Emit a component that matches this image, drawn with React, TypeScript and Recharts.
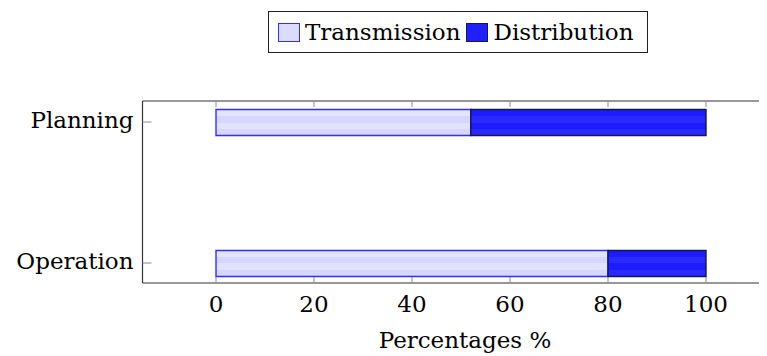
import {
  BarChart,
  Bar,
  XAxis,
  YAxis,
  Legend,
} from 'recharts';

// Share of work per task, in percent
const categories = ['Planning', 'Operation'];
const transmission = [52, 80];
const distribution = [48, 20];
const xTicks = [0, 20, 40, 60, 80, 100];

const seriesNames = { transmission: 'Transmission', distribution: 'Distribution' };

const FONT = '"DejaVu Serif", "Liberation Serif", serif';
const FONT_SIZE = 23;

const PLOT_TOP = 93;
const PLOT_BOTTOM = 275;
const PLOT_LEFT = 134.5;
const CHART_W = 800;
const CHART_H = 348;
const X_AXIS_H = 30;
// the frame runs on past the right edge of the page
const X_DOMAIN = [-15, 115];

const FRAME = '#333';
const LIGHT_STROKE = '#2f2fff';
const DARK_STROKE = '#161650';

const data = categories.map((name, i) => ({
  name,
  transmission: transmission[i],
  distribution: distribution[i],
}));

function XTick({ x, index, payload }: any) {
  return (
    <g>
      {index === 0 && (
        <line x1={PLOT_LEFT} x2={CHART_W} y1={PLOT_TOP} y2={PLOT_TOP} stroke={FRAME} strokeWidth={1.2} />
      )}
      <line x1={x} x2={x} y1={PLOT_BOTTOM} y2={PLOT_BOTTOM - 6} stroke="#8a8a8a" />
      <line x1={x} x2={x} y1={PLOT_TOP} y2={PLOT_TOP + 6} stroke="#8a8a8a" />
      <text x={x} y={PLOT_BOTTOM + 29} textAnchor="middle" fontFamily={FONT} fontSize={FONT_SIZE} fill="#000">
        {payload.value}
      </text>
    </g>
  );
}

function YTick({ y, payload }: any) {
  return (
    <g>
      <line x1={PLOT_LEFT} x2={PLOT_LEFT + 9} y1={y} y2={y} stroke="#8a8a8a" />
      <text x={PLOT_LEFT - 9} y={y + 6} textAnchor="end" fontFamily={FONT} fontSize={FONT_SIZE} fill="#000">
        {payload.value}
      </text>
    </g>
  );
}

function XLabel({ viewBox }: any) {
  const cx = viewBox.x + viewBox.width / 2 + 4;
  return (
    <text x={cx} y={340} textAnchor="middle" fontFamily={FONT} fontSize={FONT_SIZE} fill="#000">
      Percentages %
    </text>
  );
}

function LegendBox() {
  const swatch = (fill: string, stroke: string) => (
    <span
      style={{
        display: 'inline-block',
        width: 20,
        height: 17,
        background: fill,
        border: `1px solid ${stroke}`,
        marginRight: 5,
        verticalAlign: '-2px',
      }}
    />
  );
  return (
    <div
      style={{
        border: '1px solid #222',
        padding: '4px 14px 4px 9px',
        fontFamily: FONT,
        fontSize: FONT_SIZE,
        lineHeight: '32px',
        whiteSpace: 'nowrap',
        background: '#fff',
      }}
    >
      {swatch('#dcdcff', LIGHT_STROKE)}
      <span style={{ marginRight: 6 }}>{seriesNames.transmission}</span>
      {swatch('#2020ff', DARK_STROKE)}
      <span>{seriesNames.distribution}</span>
    </div>
  );
}

export default function App() {
  return (
    <div style={{ width: 759, height: CHART_H, overflow: 'hidden', position: 'relative' }}>
      <BarChart
        width={CHART_W}
        height={CHART_H}
        data={data}
        layout="vertical"
        margin={{
          top: PLOT_TOP,
          right: CHART_W - 771.5,
          bottom: CHART_H - PLOT_BOTTOM - X_AXIS_H,
          left: 0,
        }}
      >
        <defs>
          <linearGradient id="lightStripes" x1="0" y1="0" x2="0" y2="1">
            <stop offset="0" stopColor="#e4e4ff" />
            <stop offset="0.25" stopColor="#e4e4ff" />
            <stop offset="0.25" stopColor="#d6d6ff" />
            <stop offset="0.5" stopColor="#d6d6ff" />
            <stop offset="0.5" stopColor="#e2e2ff" />
            <stop offset="0.75" stopColor="#e2e2ff" />
            <stop offset="0.75" stopColor="#d6d6ff" />
            <stop offset="1" stopColor="#d6d6ff" />
          </linearGradient>
          <linearGradient id="darkStripes" x1="0" y1="0" x2="0" y2="1">
            <stop offset="0" stopColor="#1c1cff" />
            <stop offset="0.25" stopColor="#1c1cff" />
            <stop offset="0.25" stopColor="#2a2aff" />
            <stop offset="0.5" stopColor="#2a2aff" />
            <stop offset="0.5" stopColor="#1c1cff" />
            <stop offset="0.75" stopColor="#1c1cff" />
            <stop offset="0.75" stopColor="#2a2aff" />
            <stop offset="1" stopColor="#2a2aff" />
          </linearGradient>
        </defs>
        <XAxis
          type="number"
          domain={X_DOMAIN}
          ticks={xTicks}
          height={X_AXIS_H}
          allowDataOverflow
          tickLine={false}
          axisLine={{ stroke: FRAME, strokeWidth: 1.2 }}
          tick={<XTick />}
          label={<XLabel />}
        />
        <YAxis
          type="category"
          dataKey="name"
          width={PLOT_LEFT}
          padding={{ top: -49.5, bottom: -50.5 }}
          tickLine={false}
          axisLine={{ stroke: FRAME, strokeWidth: 1.2 }}
          tick={<YTick />}
          interval={0}
        />
        <Legend
          layout="horizontal"
          verticalAlign="middle"
          align="center"
          content={<LegendBox />}
          wrapperStyle={{ top: 3, left: 260, width: 'auto' }}
        />
        <Bar
          dataKey="transmission"
          name={seriesNames.transmission}
          stackId="share"
          barSize={26}
          fill="url(#lightStripes)"
          stroke={LIGHT_STROKE}
          strokeWidth={1.4}
          isAnimationActive={false}
        />
        <Bar
          dataKey="distribution"
          name={seriesNames.distribution}
          stackId="share"
          barSize={26}
          fill="url(#darkStripes)"
          stroke={DARK_STROKE}
          strokeWidth={1.4}
          isAnimationActive={false}
        />
      </BarChart>
    </div>
  );
}
